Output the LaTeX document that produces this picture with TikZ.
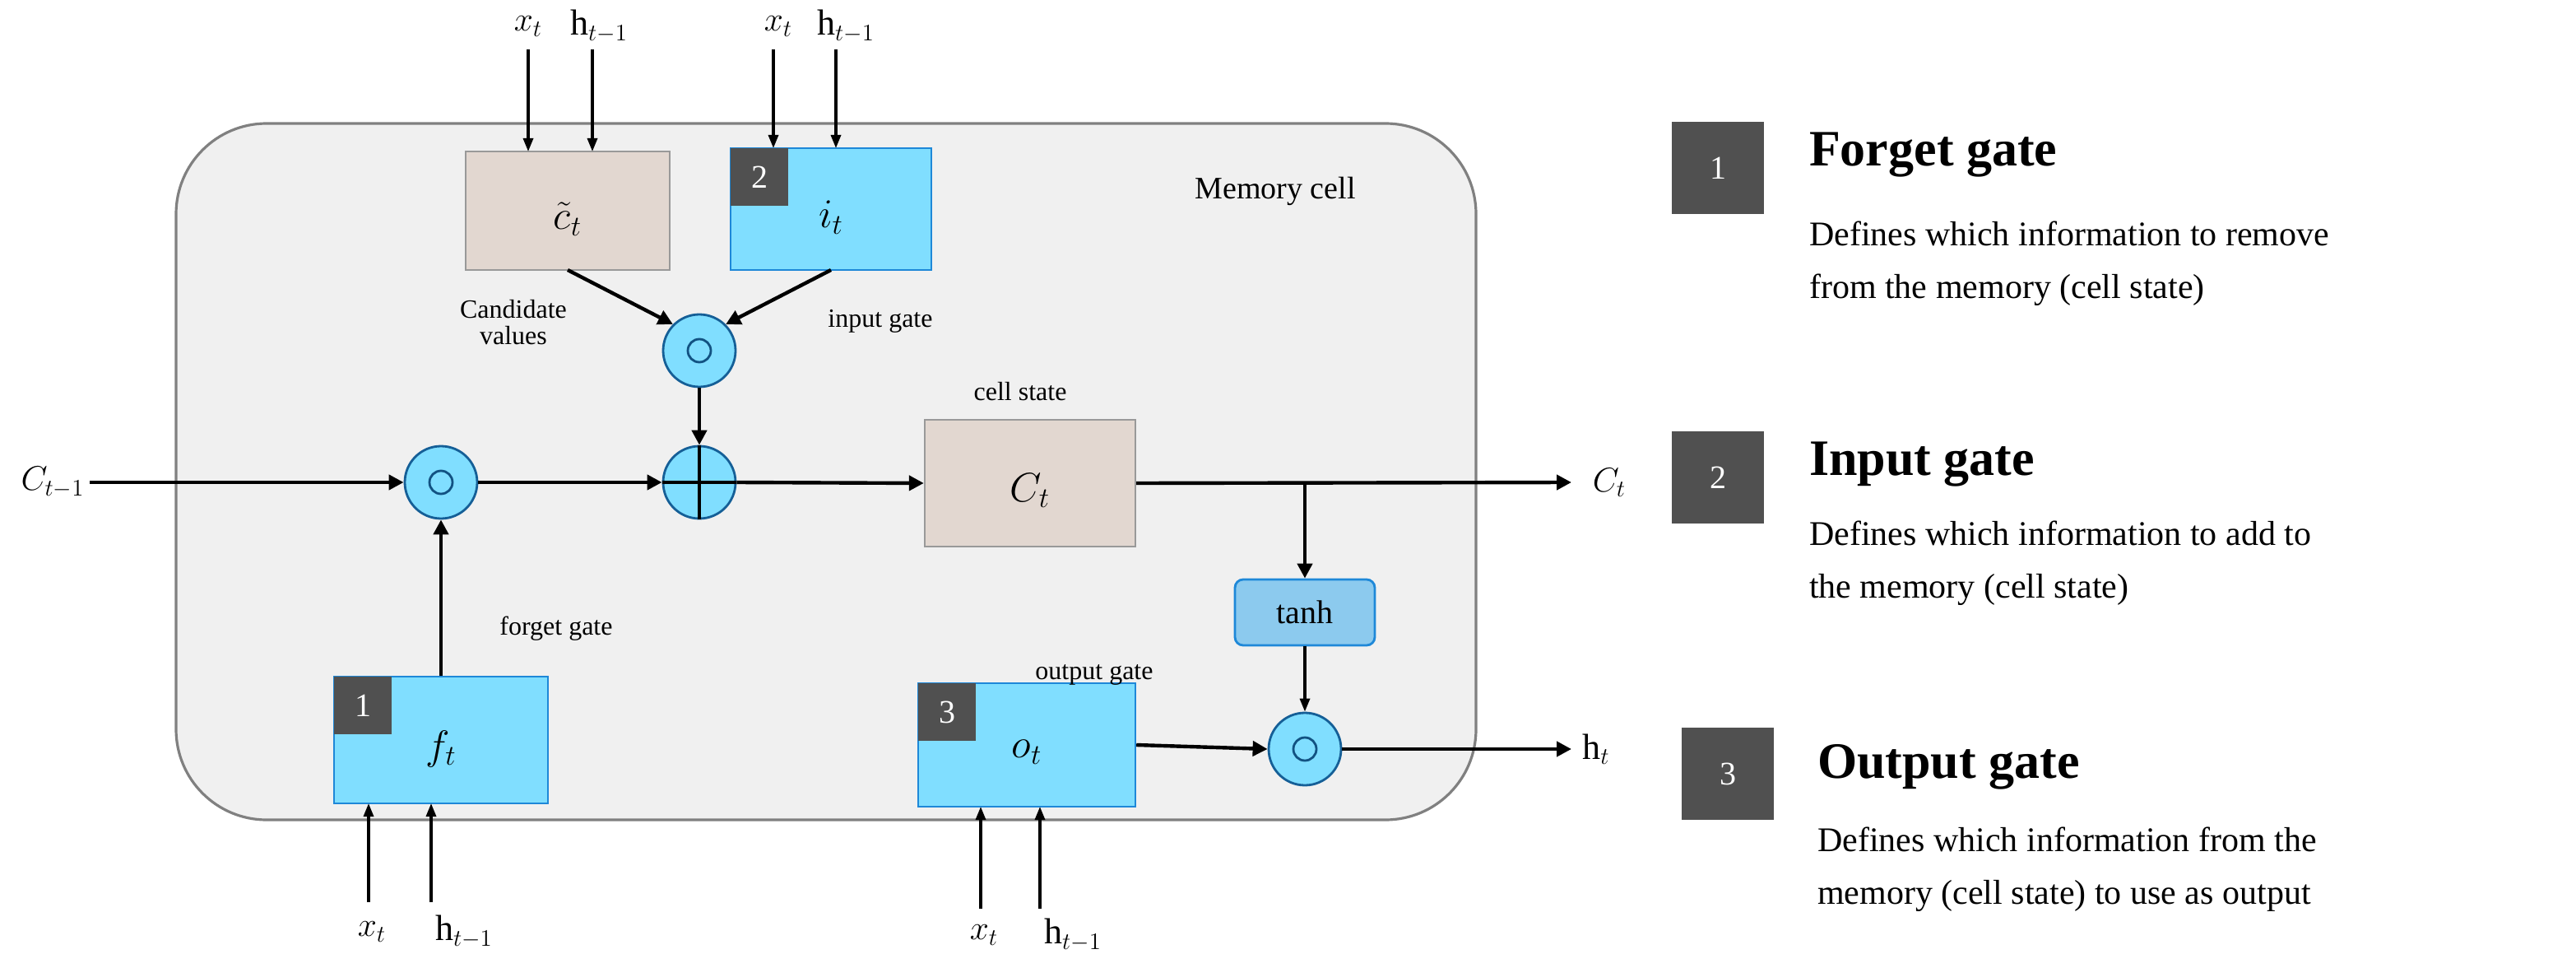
\documentclass[tikz,border=0pt]{standalone}
\usepackage{fontspec}
\setmainfont{Liberation Serif}
\usetikzlibrary{arrows.meta}
\definecolor{cellbg}{HTML}{F0F0F0}
\definecolor{beige}{HTML}{E2D7D0}
\definecolor{gateblue}{HTML}{80DEFF}
\definecolor{gateedge}{HTML}{1E88D8}
\definecolor{tanhfill}{HTML}{8CCAEE}
\definecolor{badge}{HTML}{505050}
\begin{document}
\begin{tikzpicture}[x=1pt,y=-1pt,
  arr/.style={line width=2.2pt,-{Triangle[length=9pt,width=9pt]}},
  thin/.style={line width=1.6pt,-{Triangle[length=8pt,width=6pt]}},
  beigebox/.style={draw=gray!80,line width=1.2pt,fill=beige,minimum width=#1,inner sep=0pt},
  bluebox/.style={draw=gateedge,line width=1.2pt,fill=gateblue,inner sep=0pt},
  op/.style={circle,draw=gateedge!70!black,line width=1.4pt,fill=gateblue,minimum size=44pt,inner sep=0pt},
  bdg/.style={fill=badge,text=white,minimum size=35pt,inner sep=0pt,font=\fontsize{20}{20}\selectfont},
  lbadge/.style={fill=badge,text=white,minimum size=56pt,inner sep=0pt,font=\fontsize{20}{20}\selectfont},
  lbl/.style={font=\fontsize{16}{16}\selectfont},
  big/.style={font=\fontsize{27}{27}\selectfont},
  inp/.style={font=\fontsize{22}{22}\selectfont},
  ttl/.style={anchor=west,font=\fontsize{31}{31}\selectfont\bfseries},
  dsc/.style={anchor=west,align=left,font=\fontsize{21}{32}\selectfont}]
\useasboundingbox (0,0) rectangle (1565.5,588);
% memory cell
\node[draw=gray,line width=1.6pt,fill=cellbg,rounded corners=55pt,minimum width=790pt,minimum height=423pt] (cell) at (502,286.5) {};
\node[font=\fontsize{19}{19}\selectfont] (mc) at (775,116) {Memory cell};
% boxes
\node[beigebox=124pt,minimum height=72pt] (ct) at (345,128) {};
\node[big] at (345,133) {$\tilde{c}_t$};
\node[bluebox,minimum width=122pt,minimum height=74pt] (it) at (505,127) {};
\node[big] at (505,132) {$i_t$};
\node[bdg,anchor=north west] (b2) at (444,90) {2};
\node[beigebox=128pt,minimum height=77pt] (Ct) at (626,293.5) {};
\node[big] at (626,298) {$C_t$};
\node[bluebox,minimum width=130pt,minimum height=77pt] (ft) at (268,449.5) {};
\node[big] at (268,455) {$f_t$};
\node[bdg,anchor=north west] (b1) at (203,411) {1};
\node[bluebox,minimum width=132pt,minimum height=75pt] (ot) at (624,452.5) {};
\node[big] at (624,457) {$o_t$};
\node[bdg,anchor=north west] (b3) at (558,415) {3};
\node[draw=gateedge,line width=1.4pt,fill=tanhfill,rounded corners=5pt,minimum width=85pt,minimum height=40pt,font=\fontsize{20}{20}\selectfont] (tanh) at (793,372) {tanh};
% operators
\node[op] (m1) at (425,213) {}; \draw[line width=1.4pt,gateedge!60!black] (m1) circle (7pt);
\node[op] (pl) at (425,293) {};
\draw[line width=1.6pt] (pl.north) -- (pl.south) (pl.west) -- (pl.east);
\node[op] (mf) at (268,293) {}; \draw[line width=1.4pt,gateedge!60!black] (mf) circle (7pt);
\node[op] (mo) at (793,455) {}; \draw[line width=1.4pt,gateedge!60!black] (mo) circle (7pt);
% labels
\node[lbl,align=center] at (312,196) {Candidate\\values};
\node[lbl] at (535,195) {input gate};
\node[lbl] at (620,238) {cell state};
\node[lbl] at (338,382) {forget gate};
\node[lbl] at (665,410) {output gate};
% external
\node[inp] (cm1) at (32,293) {$C_{t-1}$};
\node[inp] (cto) at (978,293) {$C_t$};
\node[inp] (hto) at (970,455) {h$_t$};
\coordinate (cend) at (955,293);
\coordinate (hend) at (955,455);
\coordinate (tap) at (793,293);
% main flow
\draw[arr] (cm1.east) -- (mf.west);
\draw[arr] (mf.east) -- (pl.west);
\draw[arr] (pl.east) -- (Ct.west);
\draw[arr] (Ct.east) -- (cend);
\draw[arr] (tap) -- (tanh.north);
\draw[thin] (tanh.south) -- (mo.north);
\draw[arr] (ot.east) -- (mo.west);
\draw[arr] (mo.east) -- (hend);
\draw[arr] (ft.north) -- (mf.south);
\draw[arr] (m1.south) -- (pl.north);
\draw[arr] (345,164) -- (m1.north west);
\draw[arr] (505,164) -- (m1.north east);
% top inputs
\node[inp] (x1) at (321,16) {$x_t$}; \node[inp] (h1) at (364,16) {h$_{t-1}$};
\node[inp] (x2) at (473,16) {$x_t$}; \node[inp] (h2) at (514,16) {h$_{t-1}$};
\draw[thin] (321,30) -- (321,92); \draw[thin] (360,30) -- (360,92);
\draw[thin] (470,30) -- (470,90); \draw[thin] (508,30) -- (508,90);
% bottom inputs
\node[inp] (x3) at (226,566) {$x_t$}; \node[inp] (h3) at (282,566) {h$_{t-1}$};
\node[inp] (x4) at (598,568) {$x_t$}; \node[inp] (h4) at (652,568) {h$_{t-1}$};
\draw[thin] (224,548) -- (224,488); \draw[thin] (262,548) -- (262,488);
\draw[thin] (596,552) -- (596,490); \draw[thin] (632,552) -- (632,490);
% legend
\node[lbadge] (L1) at (1044,102) {1};
\node[ttl] (T1) at (1096,94) {Forget gate};
\node[dsc] (D1) at (1096,160) {Defines which information to remove\\from the memory (cell state)};
\node[lbadge] (L2) at (1044,290) {2};
\node[ttl] (T2) at (1096,282) {Input gate};
\node[dsc] (D2) at (1096,342) {Defines which information to add to\\the memory (cell state)};
\node[lbadge] (L3) at (1050,470) {3};
\node[ttl] (T3) at (1101,466) {Output gate};
\node[dsc] (D3) at (1101,528) {Defines which information from the\\memory (cell state) to use as output};
\end{tikzpicture}
\end{document}
